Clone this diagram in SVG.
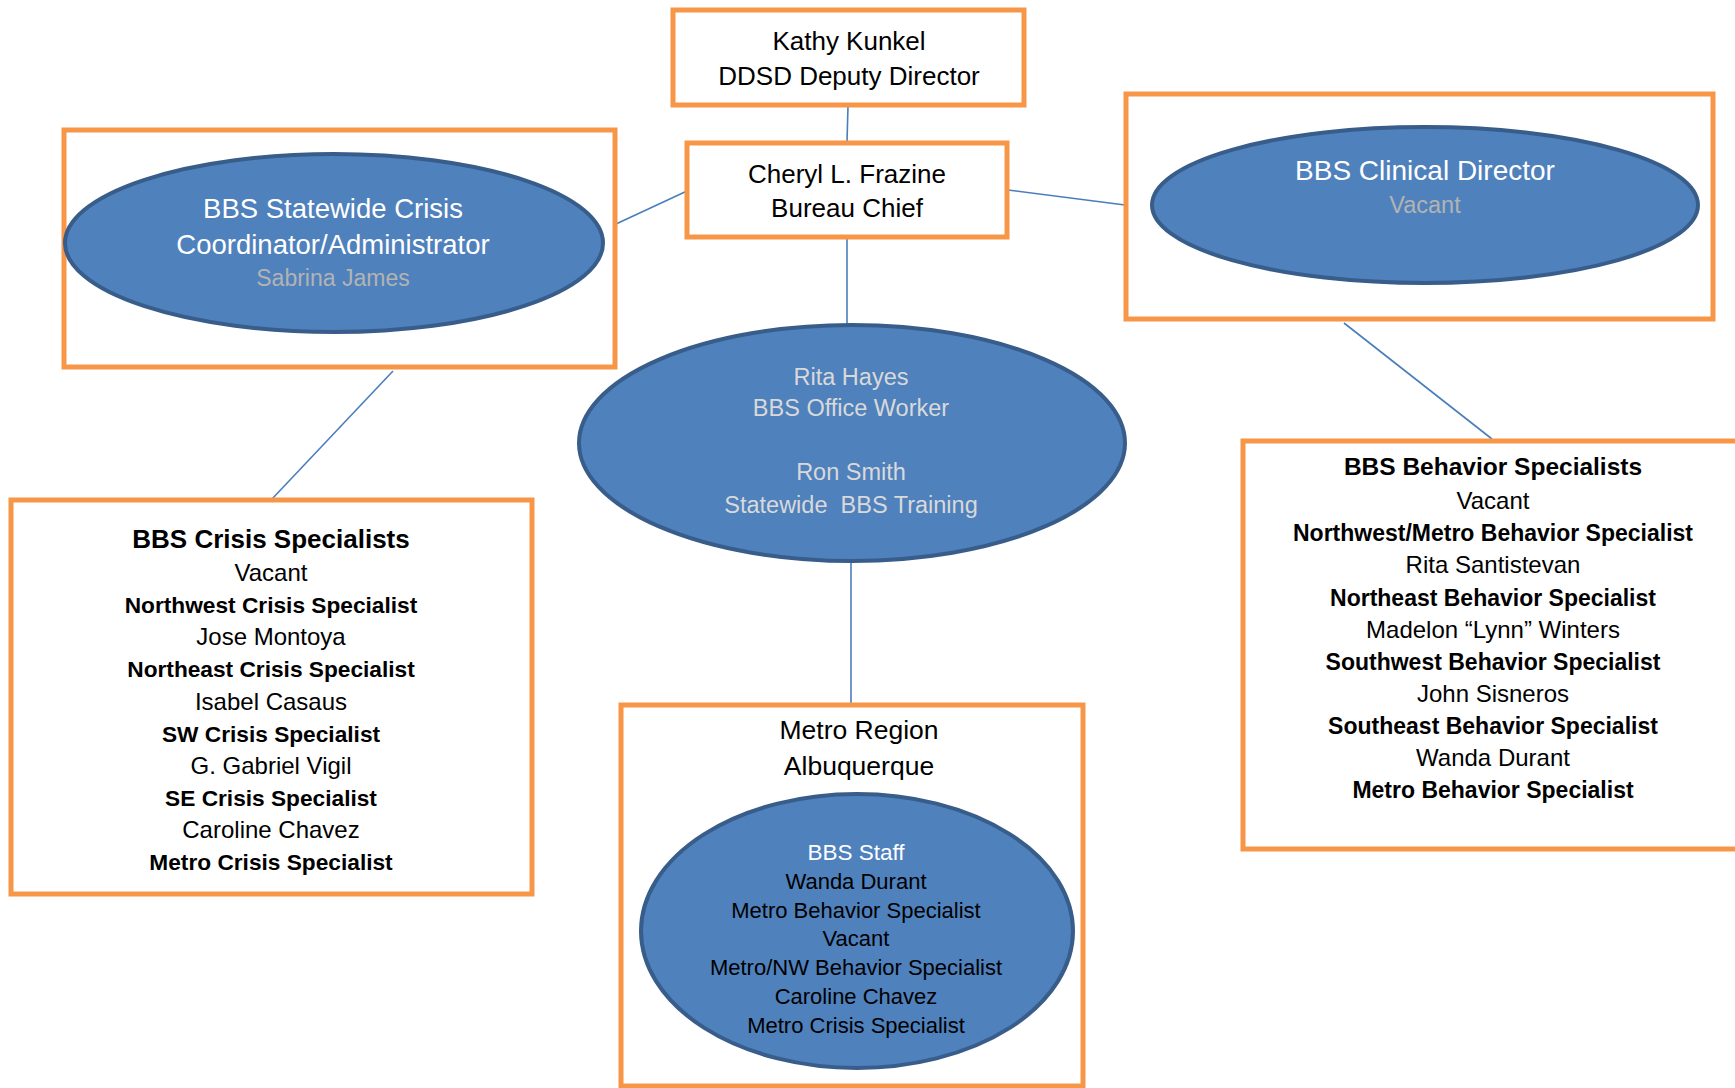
<svg xmlns="http://www.w3.org/2000/svg" width="1735" height="1088" viewBox="0 0 1735 1088">
<style>
text{font-family:"Liberation Sans",Arial,sans-serif;text-anchor:middle;}
.box{fill:#fff;stroke:#f79646;stroke-width:5;}
.ell{fill:#4f81bd;stroke:#385d8a;stroke-width:4;}
.con{stroke:#4a7ebb;stroke-width:1.6;fill:none;}
.blk{fill:#000;}
.wht{fill:#fff;}
.gry{fill:#b3b3b3;}
.lgr{fill:#d9d9d9;}
.b{font-weight:bold;}
</style>
<rect width="1735" height="1088" fill="#fff"/>
<g id="connectors">
<line class="con" x1="848" y1="106" x2="847" y2="142"/>
<line class="con" x1="687" y1="191" x2="616" y2="224"/>
<line class="con" x1="1008" y1="190" x2="1125" y2="205"/>
<line class="con" x1="847" y1="238" x2="847" y2="324"/>
<line class="con" x1="393" y1="371" x2="272" y2="499"/>
<line class="con" x1="1344" y1="323" x2="1492" y2="439"/>
<line class="con" x1="851" y1="562" x2="851" y2="704"/>
</g>
<g id="kathy">
<rect class="box" x="673" y="10" width="351" height="95"/>
<text class="blk" x="849" y="50" font-size="26">Kathy Kunkel</text>
<text class="blk" x="849" y="85" font-size="26">DDSD Deputy Director</text>
</g>
<g id="cheryl">
<rect class="box" x="687" y="143" width="320" height="94"/>
<text class="blk" x="847" y="183" font-size="26">Cheryl L. Frazine</text>
<text class="blk" x="847" y="217" font-size="26">Bureau Chief</text>
</g>
<g id="crisis-coordinator">
<rect class="box" x="64" y="130" width="551" height="237"/>
<ellipse class="ell" cx="334" cy="243" rx="269" ry="89"/>
<text class="wht" x="333" y="218" font-size="27.5">BBS Statewide Crisis</text>
<text class="wht" x="333" y="254" font-size="27.5">Coordinator/Administrator</text>
<text class="gry" x="333" y="286" font-size="23">Sabrina James</text>
</g>
<g id="clinical-director">
<rect class="box" x="1126" y="94" width="587" height="225"/>
<ellipse class="ell" cx="1425" cy="205" rx="273" ry="78"/>
<text class="wht" x="1425" y="180" font-size="28">BBS Clinical Director</text>
<text class="gry" x="1425" y="213" font-size="23.5">Vacant</text>
</g>
<g id="office">
<ellipse class="ell" cx="852" cy="443" rx="273" ry="118"/>
<text class="lgr" x="851" y="385" font-size="23.5">Rita Hayes</text>
<text class="lgr" x="851" y="416" font-size="23.5">BBS Office Worker</text>
<text class="lgr" x="851" y="480" font-size="23.5">Ron Smith</text>
<text class="lgr" x="851" y="513" font-size="23.5" xml:space="preserve">Statewide  BBS Training</text>
</g>
<g id="crisis-specialists">
<rect class="box" x="11" y="500" width="521" height="394"/>
<text class="blk b" x="271" y="548" font-size="26">BBS Crisis Specialists</text>
<text class="blk" x="271" y="581" font-size="24">Vacant</text>
<text class="blk b" x="271" y="613" font-size="22.7">Northwest Crisis Specialist</text>
<text class="blk" x="271" y="645" font-size="24">Jose Montoya</text>
<text class="blk b" x="271" y="677" font-size="22.7">Northeast Crisis Specialist</text>
<text class="blk" x="271" y="710" font-size="24">Isabel Casaus</text>
<text class="blk b" x="271" y="742" font-size="22.7">SW Crisis Specialist</text>
<text class="blk" x="271" y="774" font-size="24">G. Gabriel Vigil</text>
<text class="blk b" x="271" y="806" font-size="22.7">SE Crisis Specialist</text>
<text class="blk" x="271" y="838" font-size="24">Caroline Chavez</text>
<text class="blk b" x="271" y="870" font-size="22.7">Metro Crisis Specialist</text>
</g>
<g id="behavior-specialists">
<rect class="box" x="1243" y="441" width="510" height="408"/>
<text class="blk b" x="1493" y="475" font-size="24.5">BBS Behavior Specialists</text>
<text class="blk" x="1493" y="509" font-size="24">Vacant</text>
<text class="blk b" x="1493" y="541" font-size="23">Northwest/Metro Behavior Specialist</text>
<text class="blk" x="1493" y="573" font-size="24">Rita Santistevan</text>
<text class="blk b" x="1493" y="606" font-size="23">Northeast Behavior Specialist</text>
<text class="blk" x="1493" y="638" font-size="24">Madelon “Lynn” Winters</text>
<text class="blk b" x="1493" y="670" font-size="23">Southwest Behavior Specialist</text>
<text class="blk" x="1493" y="702" font-size="24">John Sisneros</text>
<text class="blk b" x="1493" y="734" font-size="23">Southeast Behavior Specialist</text>
<text class="blk" x="1493" y="766" font-size="24">Wanda Durant</text>
<text class="blk b" x="1493" y="798" font-size="23">Metro Behavior Specialist</text>
</g>
<g id="metro-region">
<rect class="box" x="621" y="705" width="462" height="381"/>
<text class="blk" x="859" y="739" font-size="26.5">Metro Region</text>
<text class="blk" x="859" y="775" font-size="26.5">Albuquerque</text>
</g>
<g id="bbs-staff">
<ellipse class="ell" cx="857" cy="931" rx="216" ry="137"/>
<text class="wht" x="856" y="860" font-size="22.5">BBS Staff</text>
<text class="blk" x="856" y="889" font-size="22">Wanda Durant</text>
<text class="blk" x="856" y="918" font-size="22">Metro Behavior Specialist</text>
<text class="blk" x="856" y="946" font-size="22">Vacant</text>
<text class="blk" x="856" y="975" font-size="22">Metro/NW Behavior Specialist</text>
<text class="blk" x="856" y="1004" font-size="22">Caroline Chavez</text>
<text class="blk" x="856" y="1033" font-size="22">Metro Crisis Specialist</text>
</g>
</svg>
